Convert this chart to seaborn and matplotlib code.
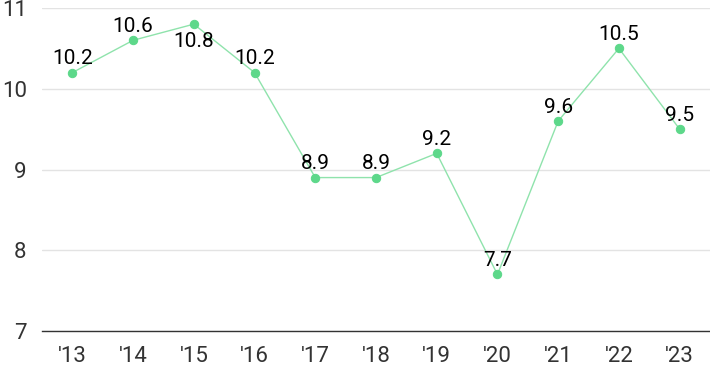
import matplotlib
matplotlib.use('Agg')
import matplotlib.pyplot as plt
import seaborn as sns
import pandas as pd

# Data
years = ["'13", "'14", "'15", "'16", "'17", "'18", "'19", "'20", "'21", "'22", "'23"]
values = [10.2, 10.6, 10.8, 10.2, 8.9, 8.9, 9.2, 7.7, 9.6, 10.5, 9.5]
label_below = ["'15"]

sns.set_style('white')
plt.rcParams['font.family'] = ['Roboto', 'DejaVu Sans']

df = pd.DataFrame({'year': years, 'value': values})

fig = plt.figure(figsize=(7.1, 3.71), dpi=100)
ax = fig.add_axes([42 / 710, 40 / 371, 668 / 710, 323 / 371])

sns.lineplot(data=df, x='year', y='value', ax=ax, color='#8fe3ac', linewidth=1,
             marker='o', markersize=6, markerfacecolor='#5dd88a',
             markeredgecolor='#5dd88a', clip_on=False)

for i, (yr, v) in enumerate(zip(years, values)):
    if yr in label_below:
        ax.annotate(f'{v}', (i, v), xytext=(0, -6), textcoords='offset points',
                    ha='center', va='top', fontsize=15, color='black')
    else:
        ax.annotate(f'{v}', (i, v), xytext=(0, 3), textcoords='offset points',
                    ha='center', va='bottom', fontsize=15, color='black')

ax.set_xlim(-0.5, len(years) - 0.5)
ax.set_ylim(7, 11)
ax.set_yticks([7, 8, 9, 10, 11])
ax.grid(axis='y', color='#e3e3e3', linewidth=1)
ax.set_axisbelow(True)
for s in ['top', 'right', 'left']:
    ax.spines[s].set_visible(False)
ax.spines['bottom'].set_color('#333333')
ax.spines['bottom'].set_linewidth(1)
ax.tick_params(axis='both', length=0, labelsize=16, colors='#333333')
ax.tick_params(axis='y', pad=11)
ax.tick_params(axis='x', pad=11)
ax.set_xlabel('')
ax.set_ylabel('')

fig.savefig('out.png', dpi=100)
